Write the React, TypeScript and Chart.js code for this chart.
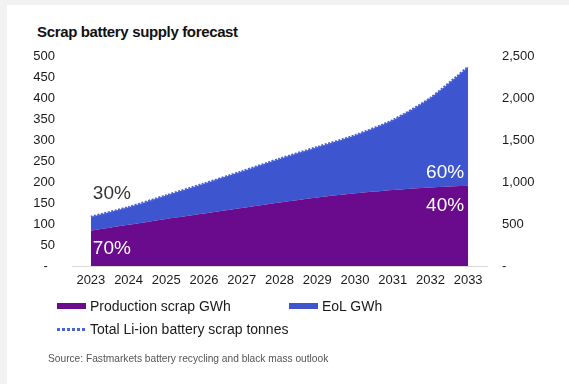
import React, { useEffect, useRef } from "react";
import { Chart, registerables } from "chart.js";

Chart.register(...registerables);

const years = ["2023", "2024", "2025", "2026", "2027", "2028", "2029", "2030", "2031", "2032", "2033"];
const productionScrapGWh = [84, 98, 112, 125, 138, 151, 163, 173, 181, 187, 191];
const eolGWh = [33, 42, 56, 71, 87, 104, 120, 138, 166, 213, 283];
const totalScrapTonnes = [585, 700, 840, 980, 1125, 1275, 1415, 1555, 1735, 2000, 2370];
const startShares = ["30%", "70%"]; // EoL, production in 2023
const endShares = ["60%", "40%"]; // EoL, production in 2033

const PURPLE = "#6A0A8C";
const BLUE = "#3D56D0";
const DOT_BLUE = "#4A63DA";
const FONT = "'Liberation Sans', Arial, sans-serif";

const shareLabelPlugin = {
  id: "shareLabels",
  afterDatasetsDraw(chart: any) {
    const { ctx, scales } = chart;
    const x = scales.x;
    const y = scales.y;
    const last = years.length - 1;
    const x0 = x.getPixelForValue(0);
    const xN = x.getPixelForValue(last);
    const total0 = y.getPixelForValue(productionScrapGWh[0] + eolGWh[0]);
    const base = y.getPixelForValue(0);
    const prodN = y.getPixelForValue(productionScrapGWh[last]);
    ctx.save();
    ctx.font = `19px ${FONT}`;
    ctx.textBaseline = "middle";
    ctx.textAlign = "left";
    ctx.fillStyle = "#333333";
    ctx.fillText(startShares[0], x0 + 2, total0 - 23);
    ctx.fillStyle = "#ffffff";
    ctx.fillText(startShares[1], x0 + 2, base - 17);
    ctx.textAlign = "right";
    ctx.fillText(endShares[0], xN - 4, prodN - 13);
    ctx.fillText(endShares[1], xN - 4, prodN + 20);
    ctx.restore();
  },
};

export default function App() {
  const ref = useRef<HTMLCanvasElement | null>(null);

  useEffect(() => {
    document.body.style.margin = "0";
    if (!ref.current) return;
    const chart = new Chart(ref.current, {
      type: "line",
      data: {
        labels: years,
        datasets: [
          {
            label: "Total Li-ion battery scrap tonnes",
            data: totalScrapTonnes,
            yAxisID: "y1",
            borderColor: DOT_BLUE,
            borderWidth: 2.5,
            borderDash: [2, 1.5],
            borderCapStyle: "butt",
            pointRadius: 0,
            fill: false,
            tension: 0.25,
          },
          {
            label: "Production scrap GWh",
            data: productionScrapGWh,
            yAxisID: "y",
            backgroundColor: PURPLE,
            borderColor: PURPLE,
            borderWidth: 0,
            pointRadius: 0,
            fill: "origin",
            tension: 0.25,
          },
          {
            label: "EoL GWh",
            data: eolGWh,
            yAxisID: "y",
            backgroundColor: BLUE,
            borderColor: BLUE,
            borderWidth: 0,
            pointRadius: 0,
            fill: "-1",
            tension: 0.25,
          },
        ],
      },
      options: {
        responsive: false,
        animation: false,
        devicePixelRatio: 1,
        layout: { padding: { top: 56, left: 0, right: 0, bottom: 0 } },
        plugins: {
          legend: { display: false },
          tooltip: { enabled: false },
          title: { display: false },
        },
        scales: {
          x: {
            offset: true,
            grid: { display: false, drawTicks: false },
            border: { display: true, color: "#d9d9d9", width: 1 },
            ticks: {
              color: "#1a1a1a",
              font: { family: FONT, size: 13 },
              padding: 7,
              maxRotation: 0,
              autoSkip: false,
            },
            afterFit: (s: any) => {
              s.height = 118;
            },
          },
          y: {
            position: "left",
            stacked: true,
            min: 0,
            max: 500,
            grid: { display: false, drawTicks: false },
            border: { display: false },
            ticks: {
              stepSize: 50,
              color: "#1a1a1a",
              font: { family: FONT, size: 13 },
              padding: 17,
              callback: (v: any) => (v === 0 ? "-  " : String(v)),
            },
            afterFit: (s: any) => {
              s.width = 72;
            },
          },
          y1: {
            position: "right",
            min: 0,
            max: 2500,
            grid: { display: false, drawTicks: false },
            border: { display: false },
            ticks: {
              stepSize: 500,
              color: "#1a1a1a",
              font: { family: FONT, size: 13 },
              padding: 15,
              callback: (v: any) => (v === 0 ? "-" : Number(v).toLocaleString("en-US")),
            },
            afterFit: (s: any) => {
              s.width = 82;
            },
          },
        },
      },
      plugins: [shareLabelPlugin],
    } as any);
    return () => chart.destroy();
  }, []);

  const legendText: React.CSSProperties = {
    position: "absolute",
    fontFamily: FONT,
    fontSize: 14,
    color: "#1a1a1a",
    lineHeight: "16px",
    whiteSpace: "nowrap",
  };

  return (
    <div style={{ position: "fixed", left: 0, top: 0, width: 569, height: 384, background: "#f2f2f2", overflow: "hidden" }}>
      <div style={{ position: "absolute", left: 7, top: 5, right: 0, bottom: 0, background: "#ffffff" }} />
      <div
        style={{
          position: "absolute",
          left: 37,
          top: 23,
          fontFamily: FONT,
          fontWeight: "bold",
          fontSize: 15,
          letterSpacing: "-0.35px",
          lineHeight: "18px",
          color: "#111",
          whiteSpace: "nowrap",
        }}
      >
        Scrap battery supply forecast
      </div>
      <canvas ref={ref} width={569} height={384} style={{ position: "absolute", left: 0, top: 0 }} />
      <div style={{ position: "absolute", left: 57, top: 303, width: 29, height: 6, background: PURPLE }} />
      <div style={{ ...legendText, left: 90, top: 298 }}>Production scrap GWh</div>
      <div style={{ position: "absolute", left: 289, top: 303, width: 29, height: 6, background: BLUE }} />
      <div style={{ ...legendText, left: 322, top: 298 }}>EoL GWh</div>
      <div
        style={{
          position: "absolute",
          left: 57,
          top: 328,
          width: 29,
          height: 3,
          background: `repeating-linear-gradient(to right, ${DOT_BLUE} 0px, ${DOT_BLUE} 3px, transparent 3px, transparent 5px)`,
        }}
      />
      <div style={{ ...legendText, left: 90, top: 321 }}>Total Li-ion battery scrap tonnes</div>
      <div
        style={{
          position: "absolute",
          left: 48,
          top: 353,
          fontFamily: FONT,
          fontSize: 10.2,
          color: "#555",
          whiteSpace: "nowrap",
          lineHeight: "12px",
        }}
      >
        Source: Fastmarkets battery recycling and black mass outlook
      </div>
    </div>
  );
}
